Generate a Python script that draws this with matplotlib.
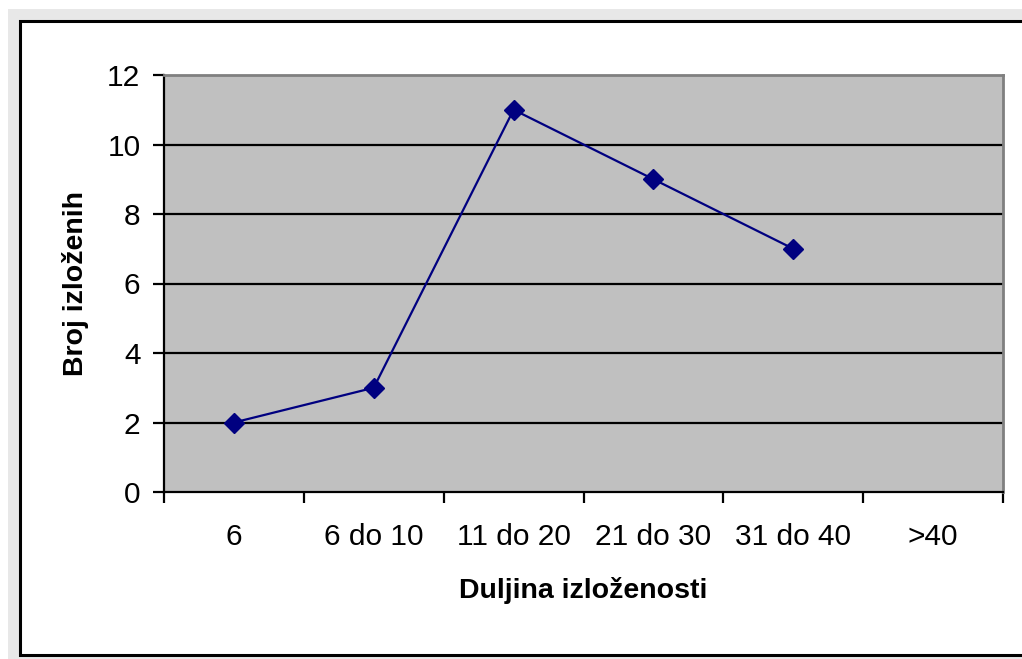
import matplotlib.pyplot as plt
from matplotlib.patches import Rectangle
import numpy as np

# Data
categories = ['6', '6 do 10', '11 do 20', '21 do 30', '31 do 40', '>40']
values = [2, 3, 11, 9, 7]
y_ticks = [0, 2, 4, 6, 8, 10, 12]

plt.rcParams['font.family'] = ['Liberation Sans', 'DejaVu Sans']

fig = plt.figure(figsize=(10.22, 6.59), dpi=100, facecolor='white')

# Outer gray frame and white chart area with black border
fig.patches.append(Rectangle((8 / 1022, 0), 1.0, 1 - 9 / 659, transform=fig.transFigure,
                             facecolor='#E8E8E8', edgecolor='none', zorder=-2))
fig.patches.append(Rectangle((20 / 1022, 4 / 659), 1.0, 1 - 25 / 659, transform=fig.transFigure,
                             facecolor='white', edgecolor='black', linewidth=2.2, zorder=-1))

ax = fig.add_axes([164 / 1022, 1 - 492 / 659, 839 / 1022, 417 / 659])
ax.set_facecolor('#C0C0C0')

x = np.arange(len(values))
ax.plot(x, values, color='#000080', linewidth=1.6, marker='D', markersize=10,
        zorder=3, clip_on=False)

ax.set_xlim(-0.5, len(categories) - 0.5)
ax.set_ylim(0, 12)
ax.set_yticks(y_ticks)
ax.set_yticklabels([str(t) for t in y_ticks], fontsize=21.5)
ax.set_xticks(np.arange(len(categories)))
ax.set_xticklabels(categories, fontsize=21.5)
ax.set_xticks(np.arange(len(categories) + 1) - 0.5, minor=True)
ax.tick_params(axis='x', which='major', length=0, pad=22)
ax.tick_params(axis='x', which='minor', length=8, width=1.6, direction='out', color='black')
ax.tick_params(axis='y', length=8, width=1.6, direction='out', pad=9)

for t in y_ticks[1:-1]:
    ax.axhline(t, color='black', linewidth=1.6, zorder=1)

ax.spines['left'].set_linewidth(1.6)
ax.spines['bottom'].set_linewidth(1.6)
ax.spines['top'].set_color('#808080')
ax.spines['right'].set_color('#808080')
ax.spines['top'].set_linewidth(2)
ax.spines['right'].set_linewidth(2)

ax.set_xlabel('Duljina izloženosti', fontsize=20.5, fontweight='bold', labelpad=19)
ax.set_ylabel('Broj izloženih', fontsize=20.5, fontweight='bold', labelpad=13)

fig.savefig('out.png', dpi=100, facecolor=fig.get_facecolor())
